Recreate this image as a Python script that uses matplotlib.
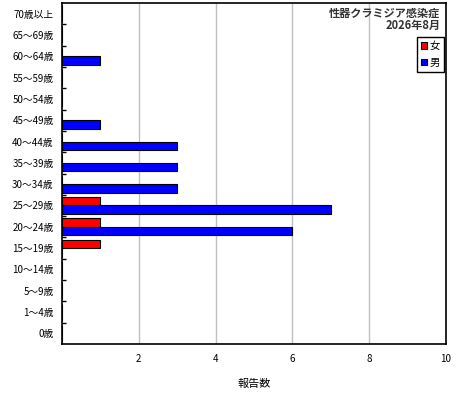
import matplotlib
matplotlib.use("Agg")
import matplotlib.pyplot as plt
import numpy as np

plt.rcParams['font.family'] = ['Noto Sans CJK JP', 'DejaVu Sans']

# age groups, bottom to top
age_groups = ["0歳", "1～4歳", "5～9歳", "10～14歳", "15～19歳", "20～24歳",
              "25～29歳", "30～34歳", "35～39歳", "40～44歳", "45～49歳",
              "50～54歳", "55～59歳", "60～64歳", "65～69歳", "70歳以上"]
female = [0, 0, 0, 0, 1, 1, 1, 0, 0, 0, 0, 0, 0, 0, 0, 0]
male = [0, 0, 0, 0, 0, 6, 7, 3, 3, 3, 1, 0, 0, 1, 0, 0]
title_lines = ["性器クラミジア感染症", "2026年8月"]

fig = plt.figure(figsize=(4.6, 4.0), dpi=100)
ax = fig.add_axes([62 / 460, 1 - 344 / 400, 384 / 460, 341 / 400])

y = np.arange(len(age_groups))
h = 0.4
ax.barh(y + h / 2, female, height=h, color="#ff0000", edgecolor="black",
        linewidth=0.8, label="女", zorder=3)
ax.barh(y - h / 2, male, height=h, color="#0000ff", edgecolor="black",
        linewidth=0.8, label="男", zorder=3)

ax.set_xlim(0, 10)
ax.set_ylim(-0.5, len(age_groups) - 0.5)
ax.set_xticks([2, 4, 6, 8, 10])
ax.set_xticklabels(["2", "4", "6", "8", "10"], fontsize=7)
ax.set_yticks(y)
ax.set_yticklabels(age_groups, fontsize=7)
ax.tick_params(axis="y", which="major", length=0, pad=6)
ax.set_yticks(np.arange(0.5, len(age_groups) - 1, 1.0), minor=True)
ax.tick_params(axis="y", which="minor", direction="in", length=3, width=1)
ax.tick_params(axis="x", direction="in", length=0, pad=7)
ax.grid(axis="x", color="#c0c0c0", linewidth=1, zorder=0)
for s in ax.spines.values():
    s.set_linewidth(1.2)

ax.set_xlabel("報告数", fontsize=8, labelpad=11)

ax.text(0.985, 0.99, title_lines[0], transform=ax.transAxes, ha="right",
        va="top", fontsize=8, fontweight="bold", color="#333333")
ax.text(0.985, 0.952, title_lines[1], transform=ax.transAxes, ha="right",
        va="top", fontsize=8, fontweight="bold", color="#333333")

leg = ax.legend(loc="upper right", bbox_to_anchor=(0.995, 0.9), fontsize=7.5,
                borderaxespad=0, handlelength=0.6, handleheight=0.6,
                handletextpad=0.2, borderpad=0.4, labelspacing=0.6,
                fancybox=False, edgecolor="black", framealpha=1)
leg.get_frame().set_linewidth(1)

fig.savefig("out.png", dpi=100)
